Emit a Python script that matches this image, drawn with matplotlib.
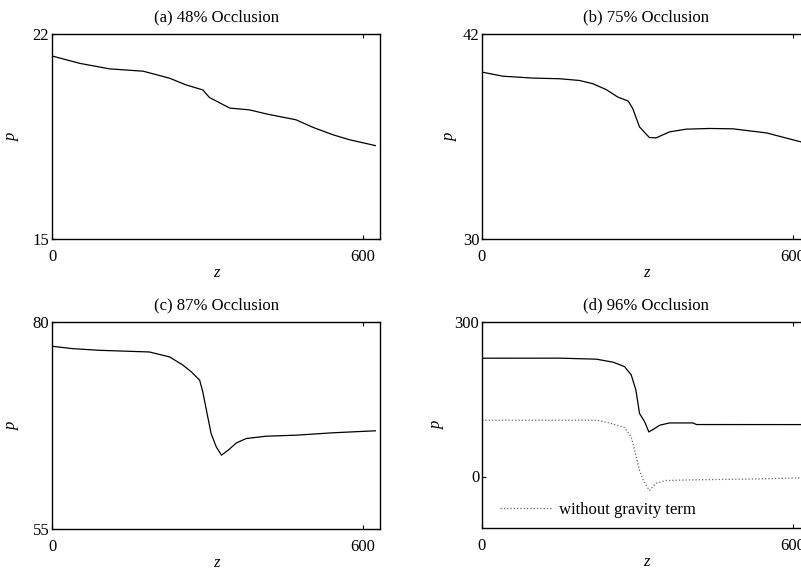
import matplotlib
matplotlib.use('Agg')
import matplotlib.pyplot as plt

plt.rcParams['font.family'] = ['Liberation Serif', 'DejaVu Serif']
plt.rcParams['font.size'] = 12

# (a) 48% occlusion
za = [0, 53, 111, 176, 227, 259, 291, 304, 343, 381, 414, 471, 504, 542, 574, 624]
pa = [21.25, 21.0, 20.81, 20.73, 20.49, 20.26, 20.09, 19.83, 19.47, 19.41, 19.27,
      19.07, 18.81, 18.56, 18.39, 18.19]

# (b) 75% occlusion
zb = [0, 40, 98, 150, 188, 214, 240, 262, 282, 291, 304, 323, 336, 362, 394, 439,
      484, 549, 615, 630]
pb = [39.77, 39.53, 39.42, 39.38, 39.28, 39.09, 38.74, 38.31, 38.08, 37.63, 36.56,
      35.94, 35.92, 36.27, 36.43, 36.47, 36.45, 36.21, 35.69, 35.55]

# (c) 87% occlusion
zc = [0, 40, 92, 188, 227, 253, 269, 285, 291, 298, 307, 317, 327, 340, 356, 375,
      414, 471, 542, 624]
pc = [77.07, 76.78, 76.58, 76.38, 75.78, 74.78, 73.97, 72.97, 71.56, 69.35, 66.54,
      64.92, 63.92, 64.52, 65.4, 65.93, 66.21, 66.33, 66.62, 66.86]

# (d) 96% occlusion, with and without gravity term
zd = [0, 150, 221, 253, 275, 288, 297, 304, 314, 322, 333, 343, 362, 407, 414, 615, 630]
pd_grav = [229.7, 229.8, 227.8, 222.0, 213.4, 197.2, 167.9, 122.4, 106.0, 86.5,
           93.1, 99.6, 104.0, 104.0, 100.9, 100.8, 100.8]
zd2 = [0, 150, 221, 246, 275, 288, 298, 304, 311, 323, 336, 355, 407, 542, 615, 630]
pd_nograv = [109.3, 109.3, 109.3, 104.0, 95.0, 76.7, 37.7, 11.7, -6.5, -27.3, -13.0,
             -7.8, -6.5, -4.6, -2.6, -2.4]

titles = ['(a) 48% Occlusion', '(b) 75% Occlusion',
          '(c) 87% Occlusion', '(d) 96% Occlusion']
ylims = [(15, 22), (30, 42), (55, 80), (-100, 300)]
yticks = [[15, 22], [30, 42], [55, 80], [0, 300]]

fig = plt.figure(figsize=(8.01, 5.73), dpi=100)
W, H = 801, 573
boxes = [(52, 34, 328, 205), (482, 34, 328, 205),
         (52, 322, 328, 207), (482, 322, 328, 206)]
ylab_x = [-0.098, -0.074, -0.098, -0.113]

axes = []
for i, (l, t, w, h) in enumerate(boxes):
    ax = fig.add_axes([l / W, (H - t - h) / H, w / W, h / H])
    ax.set_xlim(0, 633)
    ax.set_ylim(*ylims[i])
    ax.set_xticks([0, 600])
    ax.set_yticks(yticks[i])
    ax.tick_params(direction='in', length=3, width=0.8, top=True, right=True,
                   labelsize=12)
    ax.tick_params(axis='x', pad=7)
    ax.tick_params(axis='y', pad=2)
    for s in ax.spines.values():
        s.set_linewidth(1.0)
    ax.set_title(titles[i], fontsize=12, pad=9)
    ax.set_xlabel('z', style='italic', fontsize=12, labelpad=0)
    ax.set_ylabel('p', style='italic', fontsize=12)
    ax.yaxis.set_label_coords(ylab_x[i], 0.5)
    axes.append(ax)

axes[0].plot(za, pa, color='black', lw=0.9)
axes[1].plot(zb, pb, color='black', lw=0.9)
axes[2].plot(zc, pc, color='black', lw=0.9)
axes[3].plot(zd, pd_grav, color='black', lw=0.9)
axes[3].plot(zd2, pd_nograv, color='#666666', lw=0.9, ls=':',
             label='without gravity term')
axes[3].legend(loc='center left', frameon=False, fontsize=12, handlelength=3.2,
               handletextpad=0.35, borderpad=0, borderaxespad=0,
               bbox_to_anchor=(0.055, 0.087))

fig.savefig('out.png', dpi=100)
